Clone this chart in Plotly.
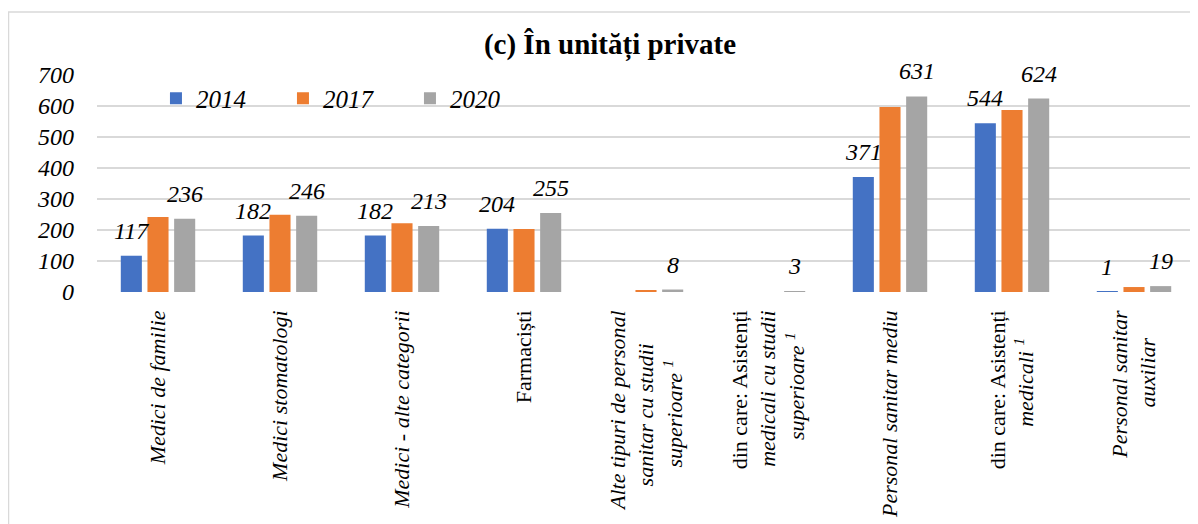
import plotly.graph_objects as go

categories = [
    "Medici de familie",
    "Medici stomatologi",
    "Medici - alte categorii",
    "Farmaciști",
    "Alte tipuri de personal sanitar cu studii superioare",
    "din care: Asistenți medicali cu studii superioare",
    "Personal sanitar mediu",
    "din care: Asistenți medicali",
    "Personal sanitar auxiliar",
]
NB = "\u00a0"
tick_labels = [
    "<i>Medici de familie</i>",
    "<i>Medici stomatologi</i>",
    "<i>Medici - alte categorii</i>",
    "Farmaciști",
    "<i>Alte tipuri de personal</i><br><i>sanitar cu studii" + NB * 6 + "</i><br><i>superioare <sup>1</sup>" + NB * 9 + "</i>",
    "din care: Asistenți<br><i>medicali cu studii</i><br><i>superioare <sup>1</sup>" + NB * 4 + "</i>",
    "<i>Personal sanitar mediu</i>",
    "din care: Asistenți<br><i>medicali <sup>1</sup>" + NB * 5 + "</i>",
    "<i>Personal sanitar</i><br><i>auxiliar" + NB * 5 + "</i>",
]
years = ["2014", "2017", "2020"]
v2014 = [117, 182, 182, 204, None, None, 371, 544, 1]
v2017 = [242, 249, 222, 203, 5, 0, 597, 587, 16]
v2020 = [236, 246, 213, 255, 8, 3, 631, 624, 19]
colors = ["#4472C4", "#ED7D31", "#A5A5A5"]
show_labels = [True, False, True]

serif = "Liberation Serif"
bargap = 0.344

fig = go.Figure()
for name, vals, col in zip(years, [v2014, v2017, v2020], colors):
    fig.add_trace(go.Bar(x=categories, y=vals, name=name, marker_color=col,
                         marker_line_width=0))

# data labels above the bars (2014 and 2020 only)
slot = (1 - bargap) / 3
annotations = []
for k, (vals, show) in enumerate(zip([v2014, v2017, v2020], show_labels)):
    if not show:
        continue
    for i, v in enumerate(vals):
        if v is None:
            continue
        annotations.append(dict(
            x=i + (k - 1) * slot, y=v, xref="x", yref="y", text=f"<i>{v}</i>",
            showarrow=False, yanchor="bottom", yshift=10,
            font=dict(family=serif, size=24, color="#000000")))

# the page body adds an 8px margin, so the figure is 8px smaller
W, H = 1190, 516
fig.update_layout(
    width=W, height=H,
    margin=dict(l=89, r=3, t=67, b=232, autoexpand=False),
    paper_bgcolor="white", plot_bgcolor="white",
    barmode="group", bargap=bargap, bargroupgap=0.21,
    title=dict(text="<b>(c) În unități private</b>", x=602 / W, xref="container",
               xanchor="center", y=1 - 36 / H, yanchor="middle",
               font=dict(family=serif, size=29, color="#000000")),
    legend=dict(orientation="h", x=0.0537, xanchor="left", y=0.892,
                yanchor="middle", bgcolor="rgba(0,0,0,0)",
                entrywidth=82, entrywidthmode="pixels",
                font=dict(family=serif, size=25, color="#000000", style="italic")),
    annotations=annotations,
    shapes=[dict(type="rect", xref="paper", yref="paper", x0=-0.0806, x1=1.2,
                 y0=-2, y1=1.29, line=dict(color="#d9d9d9", width=1.5),
                 layer="below")],
    font=dict(family=serif, color="#000000"),
)
fig.update_xaxes(type="category", tickvals=categories, ticktext=tick_labels,
                 tickangle=-90, tickfont=dict(family=serif, size=22, color="#000000"),
                 showgrid=False, showline=False, ticks="", ticklabelstandoff=13,
                 automargin=False)
fig.update_yaxes(range=[0, 700], dtick=100, showgrid=True, gridcolor="#d9d9d9",
                 gridwidth=1.5, zeroline=False, showline=False, ticks="",
                 ticklabelstandoff=22, automargin=False,
                 tickfont=dict(family=serif, size=24, color="#000000", style="italic"))

fig.write_html("out.html")
